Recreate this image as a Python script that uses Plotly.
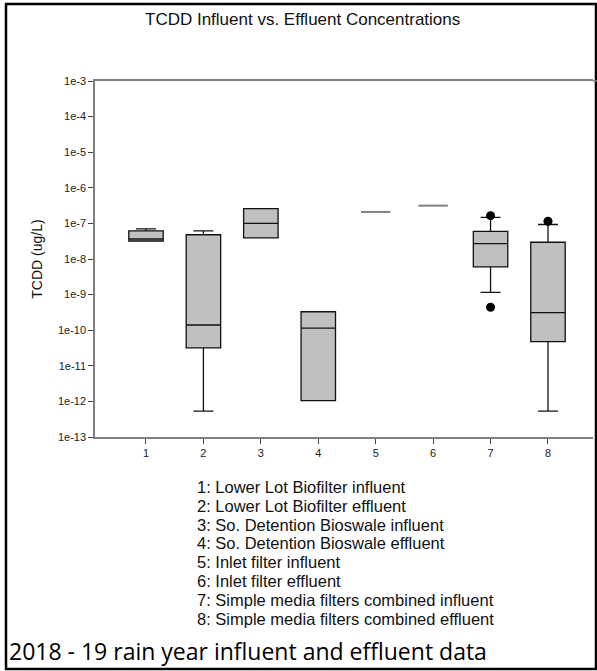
import plotly.graph_objects as go

# Group numbers and their descriptions
groups = [1, 2, 3, 4, 5, 6, 7, 8]
group_labels = [
    "1: Lower Lot Biofilter influent",
    "2: Lower Lot Biofilter effluent",
    "3: So. Detention Bioswale influent",
    "4: So. Detention Bioswale effluent",
    "5: Inlet filter influent",
    "6: Inlet filter effluent",
    "7: Simple media filters combined influent",
    "8: Simple media filters combined effluent",
]

# Box statistics (ug/L) for groups with several samples
box_groups = [1, 2, 3, 4, 7, 8]
q1 = [3.2e-8, 3.2e-11, 3.9e-8, 1.05e-12, 6.0e-9, 4.8e-11]
median = [3.65e-8, 1.4e-10, 1.0e-7, 1.15e-10, 2.7e-8, 3.1e-10]
q3 = [6.2e-8, 4.8e-8, 2.6e-7, 3.3e-10, 6.0e-8, 2.95e-8]
lower_whisker = [3.2e-8, 5.3e-13, 3.9e-8, 1.05e-12, 1.15e-9, 5.3e-13]
upper_whisker = [7.0e-8, 6.2e-8, 2.6e-7, 3.3e-10, 1.47e-7, 9.3e-8]

# Single-sample groups
single_groups = [5, 6]
single_values = [2.1e-7, 3.15e-7]

# Outlying points
outlier_groups = [7, 7, 8]
outlier_values = [1.65e-7, 4.4e-10, 1.15e-7]

# Axis ticks
y_tickvals = [10.0 ** -k for k in range(3, 14)]
y_ticktext = ["1e-%d" % k for k in range(3, 14)]

W, H = 597, 671
L, R, T, B = 95, 4, 81, 234
PW, PH = W - L - R, H - T - B


def px_x(x):
    return (x - L) / PW


def px_y(y):
    return 1 - (y - T) / PH


fig = go.Figure()

for i, g in enumerate(box_groups):
    fig.add_trace(go.Box(
        x=[g],
        q1=[q1[i]], median=[median[i]], q3=[q3[i]],
        lowerfence=[lower_whisker[i]], upperfence=[upper_whisker[i]],
        width=0.6,
        whiskerwidth=0.58,
        fillcolor="#c0c0c0",
        line=dict(color="#111111", width=1.3),
        boxpoints=False,
        showlegend=False,
        hoverinfo="skip",
    ))

fig.add_trace(go.Scatter(
    x=single_groups, y=single_values, mode="markers",
    marker=dict(symbol="line-ew", size=21,
                line=dict(color="#808080", width=2)),
    showlegend=False, hoverinfo="skip",
))

fig.add_trace(go.Scatter(
    x=outlier_groups, y=outlier_values, mode="markers",
    marker=dict(symbol="circle", size=9, color="black"),
    showlegend=False, hoverinfo="skip",
))

axis_font = dict(family="Arial, Liberation Sans, sans-serif", size=11, color="#222222")

fig.update_xaxes(
    range=[0.112, 8.784],
    tickvals=groups,
    ticks="outside", ticklen=5, tickcolor="#444444",
    showline=True, linecolor="#808080", linewidth=1.5, mirror=True,
    showgrid=False, zeroline=False,
    tickfont=axis_font,
)
fig.update_yaxes(
    type="log",
    range=[-13, -3],
    tickvals=y_tickvals, ticktext=y_ticktext,
    ticks="outside", ticklen=5, tickcolor="#444444",
    showline=True, linecolor="#808080", linewidth=1.5,
    showgrid=False, zeroline=False,
    tickfont=axis_font,
    title=dict(text="TCDD (ug/L)",
               font=dict(family="Arial, Liberation Sans, sans-serif", size=14, color="#111111"),
               standoff=12),
)

annotations = [
    dict(text="TCDD Influent vs. Effluent Concentrations",
         x=px_x(302), y=px_y(20), xref="paper", yref="paper",
         xanchor="center", yanchor="middle", showarrow=False,
         font=dict(family="Arial, Liberation Sans, sans-serif", size=17, color="#111111")),
]
for k, lbl in enumerate(group_labels):
    annotations.append(dict(
        text=lbl, x=px_x(195), y=px_y(487 + 18.8 * k),
        xref="paper", yref="paper", xanchor="left", yanchor="middle",
        showarrow=False,
        font=dict(family="Arial, Liberation Sans, sans-serif", size=16.5, color="#111111"),
    ))
annotations.append(dict(
    text="2018 - 19 rain year influent and effluent data",
    x=px_x(7), y=px_y(651), xref="paper", yref="paper",
    xanchor="left", yanchor="middle", showarrow=False,
    font=dict(family="Open Sans, sans-serif", size=23, color="#000000"),
))

shapes = [
    dict(type="rect", xref="paper", yref="paper",
         x0=px_x(6), x1=px_x(596), y0=px_y(669), y1=px_y(4),
         line=dict(color="black", width=2.5), fillcolor="rgba(0,0,0,0)"),
    # top frame line runs on to the right edge
    dict(type="line", xref="paper", yref="paper",
         x0=1, x1=px_x(597), y0=1, y1=1,
         line=dict(color="#808080", width=1.5)),
]

fig.update_layout(
    width=W, height=H,
    margin=dict(l=L, r=R, t=T, b=B),
    paper_bgcolor="white", plot_bgcolor="white",
    annotations=annotations, shapes=shapes,
    showlegend=False,
)

fig.write_html("out.html")
